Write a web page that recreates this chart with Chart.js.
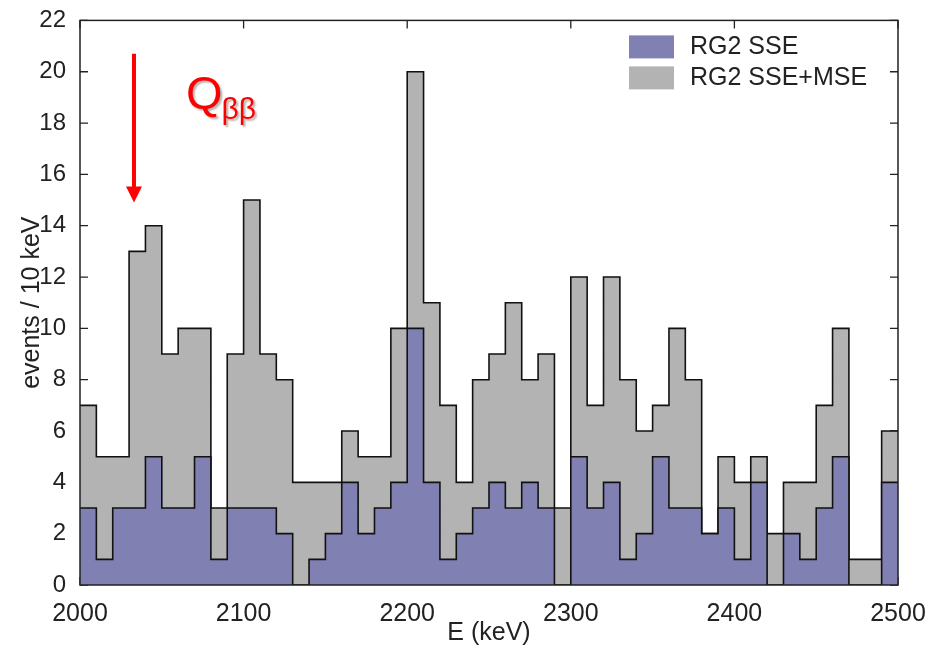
<!DOCTYPE html>
<html>
<head>
<meta charset="utf-8">
<script src="https://cdn.jsdelivr.net/npm/chart.js@4/dist/chart.umd.min.js"></script>
<style>
  html, body { margin: 0; padding: 0; background: #fff; }
  #wrap { width: 943px; height: 648px; }
</style>
</head>
<body>
<div id="wrap"><canvas id="spectrum" width="943" height="648"></canvas></div>
<script>
// lower edge of each 10 keV bin
const binStarts = [2000, 2010, 2020, 2030, 2040, 2050, 2060, 2070, 2080, 2090,
                   2100, 2110, 2120, 2130, 2140, 2150, 2160, 2170, 2180, 2190,
                   2200, 2210, 2220, 2230, 2240, 2250, 2260, 2270, 2280, 2290,
                   2300, 2310, 2320, 2330, 2340, 2350, 2360, 2370, 2380, 2390,
                   2400, 2410, 2420, 2430, 2440, 2450, 2460, 2470, 2480, 2490];
const binWidth = 10;

// RG2 single-site events
const sseCounts = [3, 1, 3, 3, 5, 3, 3, 5, 1, 3,
                   3, 3, 2, 0, 1, 2, 4, 2, 3, 4,
                   10, 4, 1, 2, 3, 4, 3, 4, 3, 0,
                   5, 3, 4, 1, 2, 5, 3, 3, 2, 3,
                   1, 4, 0, 2, 1, 3, 5, 0, 0, 4];
// RG2 single + multi-site events
const allCounts = [7, 5, 5, 13, 14, 9, 10, 10, 3, 9,
                   15, 9, 8, 4, 4, 4, 6, 5, 5, 10,
                   20, 11, 7, 4, 8, 9, 11, 8, 9, 3,
                   12, 7, 12, 8, 6, 7, 10, 8, 2, 5,
                   4, 5, 2, 4, 4, 7, 10, 1, 1, 6];

const seriesLabels = ['RG2 SSE', 'RG2 SSE+MSE'];
const xTicks = [2000, 2100, 2200, 2300, 2400, 2500];
const yTicks = [0, 2, 4, 6, 8, 10, 12, 14, 16, 18, 20, 22];

// Q_bb marker (data coords)
const qArrowE = 2033;
const qArrowTop = 20.7;
const qArrowTip = 14.9;

const sseColor = '#8080b3';
const allColor = '#b3b3b3';
const FONT = '"Liberation Sans", Arial, sans-serif';

// step histogram: one point per lower edge plus the closing upper edge
function toSteps(counts) {
    const pts = binStarts.map((e, i) => ({ x: e, y: counts[i] }));
    const last = binStarts.length - 1;
    pts.push({ x: binStarts[last] + binWidth, y: counts[last] });
    return pts;
}

const frameTicks = {
    id: 'frameTicks',
    beforeDatasetsDraw(chart) {
        const { ctx, chartArea: a, scales: { x, y } } = chart;
        const len = 8;
        ctx.save();
        ctx.strokeStyle = '#222';
        ctx.lineWidth = 1.3;
        ctx.beginPath();
        xTicks.forEach(v => {
            const px = x.getPixelForValue(v);
            ctx.moveTo(px, a.top); ctx.lineTo(px, a.top + len);
            ctx.moveTo(px, a.bottom); ctx.lineTo(px, a.bottom - len);
        });
        yTicks.forEach(v => {
            const py = y.getPixelForValue(v);
            ctx.moveTo(a.left, py); ctx.lineTo(a.left + len, py);
            ctx.moveTo(a.right, py); ctx.lineTo(a.right - len, py);
        });
        ctx.stroke();
        ctx.restore();
    },
    afterDatasetsDraw(chart) {
        const { ctx, chartArea: a } = chart;
        ctx.save();
        ctx.strokeStyle = '#222';
        ctx.lineWidth = 1.5;
        ctx.strokeRect(a.left, a.top, a.right - a.left, a.bottom - a.top);
        ctx.restore();
    }
};

const boxLegend = {
    id: 'boxLegend',
    afterDraw(chart) {
        const { ctx, chartArea: a } = chart;
        const colors = [sseColor, allColor];
        ctx.save();
        ctx.font = '25px ' + FONT;
        ctx.textBaseline = 'middle';
        seriesLabels.forEach((lab, i) => {
            const top = a.top + 15 + i * 31;
            ctx.fillStyle = colors[i];
            ctx.fillRect(a.right - 269, top, 45, 23);
            ctx.fillStyle = '#222';
            ctx.fillText(lab, a.right - 208, top + 12);
        });
        ctx.restore();
    }
};

const qMarker = {
    id: 'qMarker',
    afterDraw(chart) {
        const { ctx, scales: { x, y } } = chart;
        const px = x.getPixelForValue(qArrowE);
        const pTop = y.getPixelForValue(qArrowTop);
        const pTip = y.getPixelForValue(qArrowTip);
        ctx.save();
        ctx.strokeStyle = '#ff0000';
        ctx.fillStyle = '#ff0000';
        ctx.lineWidth = 4;
        ctx.beginPath();
        ctx.moveTo(px, pTop);
        ctx.lineTo(px, pTip - 14);
        ctx.stroke();
        ctx.beginPath();
        ctx.moveTo(px - 8, pTip - 16);
        ctx.lineTo(px + 8, pTip - 16);
        ctx.lineTo(px, pTip);
        ctx.closePath();
        ctx.fill();

        ctx.shadowColor = 'rgba(0,0,0,0.3)';
        ctx.shadowOffsetX = 2;
        ctx.shadowOffsetY = 2;
        ctx.shadowBlur = 2;
        ctx.textBaseline = 'alphabetic';
        const qx = px + 52;
        ctx.font = '47px ' + FONT;
        ctx.fillText('Q', qx, 109);
        const qw = ctx.measureText('Q').width;
        ctx.font = '30px ' + FONT;
        ctx.fillText('ββ', qx + qw - 1, 119);
        ctx.restore();
    }
};

new Chart(document.getElementById('spectrum'), {
    type: 'line',
    data: {
        datasets: [
            {
                label: seriesLabels[0],
                data: toSteps(sseCounts),
                stepped: 'before',
                fill: 'origin',
                backgroundColor: sseColor,
                borderColor: '#111',
                borderWidth: 1.6,
                pointRadius: 0
            },
            {
                label: seriesLabels[1],
                data: toSteps(allCounts),
                stepped: 'before',
                fill: 'origin',
                backgroundColor: allColor,
                borderColor: '#111',
                borderWidth: 1.6,
                pointRadius: 0
            }
        ]
    },
    options: {
        responsive: false,
        animation: false,
        layout: { padding: { top: 17, right: 45, left: 0, bottom: 0 } },
        plugins: { legend: { display: false }, tooltip: { enabled: false } },
        scales: {
            x: {
                type: 'linear',
                min: 2000, max: 2500,
                afterFit(scale) { scale.height = 63; },
                afterBuildTicks(scale) { scale.ticks = xTicks.map(v => ({ value: v })); },
                grid: { display: false },
                border: { display: false },
                ticks: { padding: 6, color: '#222', font: { family: FONT, size: 25 },
                         callback: v => String(v) },
                title: { display: true, text: 'E (keV)', color: '#222', padding: { top: 0, bottom: 0 },
                         font: { family: FONT, size: 25 } }
            },
            y: {
                min: 0, max: 22,
                afterFit(scale) { scale.width = 80; },
                afterBuildTicks(scale) { scale.ticks = yTicks.map(v => ({ value: v })); },
                grid: { display: false },
                border: { display: false },
                ticks: { padding: 6, color: '#222', font: { family: FONT, size: 24 },
                         callback: v => String(v) },
                title: { display: true, text: 'events / 10 keV', color: '#222', padding: { top: 17, bottom: 0 },
                         font: { family: FONT, size: 25 } }
            }
        }
    },
    plugins: [frameTicks, boxLegend, qMarker]
});
</script>
</body>
</html>
